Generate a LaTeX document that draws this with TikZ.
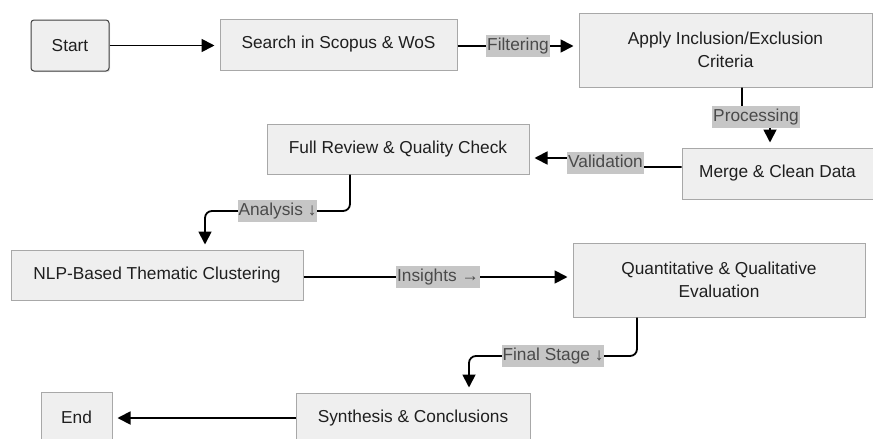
\documentclass[tikz,border=0pt]{standalone}
\usepackage{fontspec}
\setmainfont{Liberation Sans}
\usepackage{tikz}
\usetikzlibrary{arrows.meta, shadows}
\usepackage{xcolor}
\definecolor{boxfill}{HTML}{EFEFEF}
\definecolor{boxline}{HTML}{A8A8A8}
\definecolor{tagfill}{HTML}{C6C6C6}
\definecolor{tagtext}{HTML}{4A4A4A}

\begin{document}
\begin{tikzpicture}[x=1pt, y=-1pt,
    box/.style={draw=boxline, line width=1pt, fill=boxfill, text=black!88,
      font=\fontsize{17.3}{23}\selectfont, align=center,
      drop shadow={shadow xshift=1.2pt, shadow yshift=-1.2pt, opacity=0.25}},
    tag/.style={sharp corners, fill=tagfill, text=tagtext, font=\fontsize{17.3}{20}\selectfont,
      inner xsep=1pt, inner ysep=3pt, text height=12.5pt, text depth=3.5pt},
    flow/.style={line width=1.8pt, rounded corners=7pt, shorten >=5pt,
      -{Triangle[length=13pt,width=13pt]}}]
    \useasboundingbox[fill=white] (0,0) rectangle (873,439);
    % Etapas
    \node[box, draw=black!75, rounded corners=3pt, minimum width=78pt, minimum height=51pt] (start) at (70,45.5) {Start};
    \node[box, minimum width=237pt, minimum height=51pt] (search) at (338.5,44.5) {Search in Scopus \& WoS};
    \node[box, minimum width=293pt, minimum height=74pt] (apply) at (725.5,50) {Apply Inclusion/Exclusion\\Criteria};
    \node[box, minimum width=191pt, minimum height=51pt] (merge) at (777.5,173.5) {Merge \& Clean Data};
    \node[box, minimum width=262pt, minimum height=50pt] (review) at (398,149) {Full Review \& Quality Check};
    \node[box, minimum width=292pt, minimum height=50pt] (nlp) at (157,275) {NLP-Based Thematic Clustering};
    \node[box, minimum width=292pt, minimum height=74pt] (quant) at (719,280) {Quantitative \& Qualitative\\Evaluation};
    \node[box, minimum width=234pt, minimum height=50pt] (synth) at (413,418) {Synthesis \& Conclusions};
    \node[box, minimum width=71pt, minimum height=51pt] (end) at (76.5,417.5) {End};
    % Ligações
    \draw[flow] (start.east) -- (start.east -| search.west);
    \draw[flow] (search.east |- 0,46) -- node[tag] {Filtering} (apply.west |- 0,46);
    \draw[flow] (742,0 |- apply.south) -- (742,117) -- node[tag] {Processing} (770,117) -- (770,0 |- merge.north);
    \draw[flow] (merge.west |- 0,167) -- (605.5,167) -- node[tag] {Validation} (605.5,158) -- (review.east |- 0,158);
    \draw[flow] (350,0 |- review.south) -- (350,211) -- node[tag] {Analysis ↓} (205,211) -- (205,0 |- nlp.north);
    \draw[flow] (nlp.east |- 0,277) -- node[tag] {Insights →} (quant.west |- 0,277);
    \draw[flow] (637,0 |- quant.south) -- (637,356) -- node[tag] {Final Stage ↓} (469,356) -- (469,0 |- synth.north);
    \draw[flow] (synth.west |- 0,418) -- (end.east |- 0,418);
\end{tikzpicture}
\end{document}
